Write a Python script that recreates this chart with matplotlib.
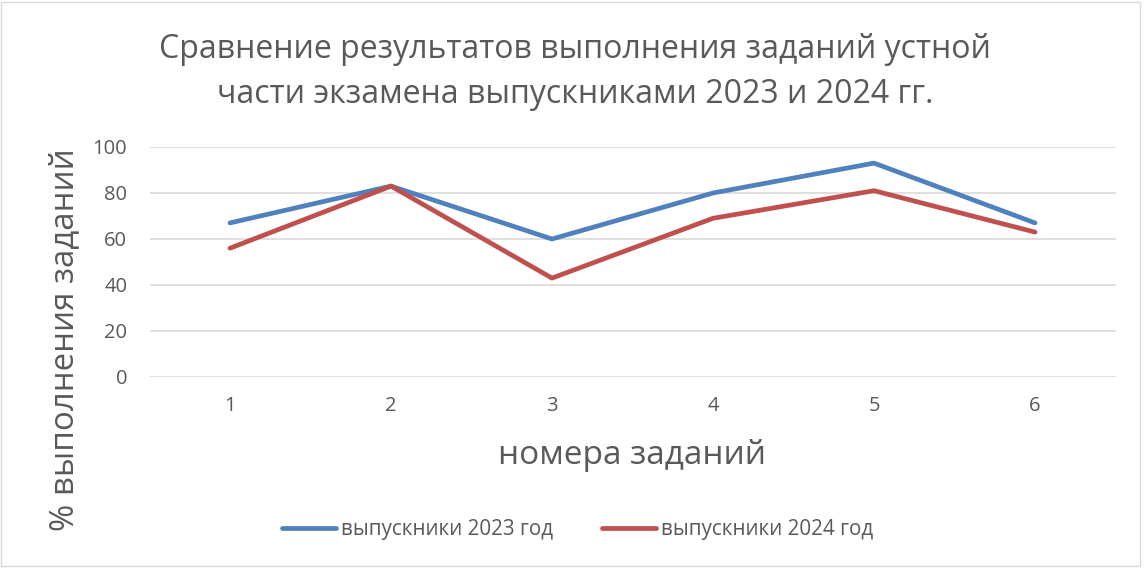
import matplotlib
matplotlib.use('Agg')
import matplotlib.pyplot as plt
from matplotlib.patches import Rectangle

plt.rcParams['font.family'] = ['Open Sans', 'DejaVu Sans']

tasks = ['1', '2', '3', '4', '5', '6']
grads_2023 = [67, 83, 60, 80, 93, 67]
grads_2024 = [56, 83, 43, 69, 81, 63]
series_names = ['выпускники 2023 год', 'выпускники 2024 год']
title = 'Сравнение результатов выполнения заданий устной\nчасти экзамена выпускниками 2023 и 2024 гг.'

W, H = 1144, 569
fig = plt.figure(figsize=(W / 100, H / 100), dpi=100)
ax = fig.add_axes([149.5 / W, 1 - 377 / H, (1115.5 - 149.5) / W, (377 - 147) / H])

x = range(len(tasks))
ax.plot(x, grads_2023, color='#4F81BD', lw=3.4, solid_capstyle='round', label=series_names[0])
ax.plot(x, grads_2024, color='#C0504D', lw=3.4, solid_capstyle='round', label=series_names[1])

ax.set_xlim(-0.5, len(tasks) - 0.5)
ax.set_ylim(0, 100)
ax.set_yticks(range(0, 101, 20))
ax.set_xticks(list(x))
ax.set_xticklabels(tasks)
ax.grid(axis='y', color='#D9D9D9', lw=1.2)
ax.set_axisbelow(True)
for s in ax.spines.values():
    s.set_visible(False)
ax.tick_params(length=0, labelsize=14.5, colors='#595959')
ax.tick_params(axis='y', pad=16)
ax.tick_params(axis='x', pad=14)

fig.text(575 / W, 1 - 72 / H, title, ha='center', va='center', fontsize=23,
         color='#595959', linespacing=1.45)
fig.text(632 / W, 1 - 455 / H, 'номера заданий', ha='center', va='center',
         fontsize=24, color='#595959')
fig.text(65 / W, 1 - 340 / H, '% выполнения заданий', ha='center', va='center',
         rotation=90, fontsize=23.8, color='#595959')

fig.legend(loc='center', bbox_to_anchor=(577.5 / W, 1 - 530 / H), ncol=2, frameon=False,
           fontsize=14.9, labelcolor='#595959', handlelength=2.6, handletextpad=0.25,
           columnspacing=2.35)

fig.patches.append(Rectangle((1 / W, 3 / H), (W - 5) / W, (H - 5) / H, transform=fig.transFigure,
                             fill=False, edgecolor='#D9D9D9', lw=1))

fig.savefig('out.png', dpi=100)
